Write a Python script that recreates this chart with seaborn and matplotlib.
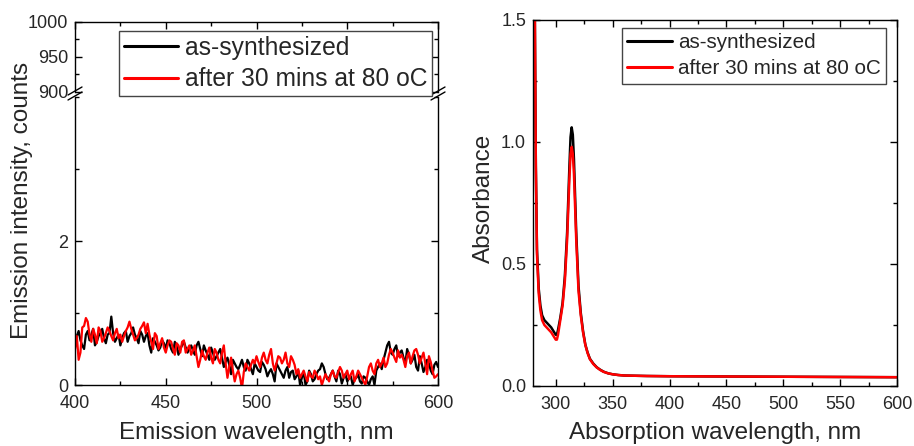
import numpy as np
import pandas as pd
import matplotlib
matplotlib.use("Agg")
import matplotlib.pyplot as plt
from matplotlib.ticker import MultipleLocator
import seaborn as sns

# ---------------- data ----------------
series_names = ["as-synthesized", "after 30 mins at 80 oC"]
series_colors = ["#000000", "#ff0000"]

em_wavelength = list(range(400, 601, 1))
em_as_synth = [
    0.55, 0.68, 0.75, 0.62, 0.55, 0.50, 0.70, 0.75, 0.62, 0.70,
    0.78, 0.55, 0.60, 0.68, 0.72, 0.78, 0.65, 0.58, 0.70, 0.72,
    0.95, 0.72, 0.60, 0.65, 0.70, 0.55, 0.65, 0.72, 0.75, 0.60,
    0.68, 0.72, 0.80, 0.70, 0.65, 0.58, 0.75, 0.70, 0.60, 0.68,
    0.72, 0.55, 0.45, 0.65, 0.60, 0.55, 0.48, 0.52, 0.62, 0.58,
    0.50, 0.62, 0.58, 0.50, 0.45, 0.60, 0.55, 0.42, 0.50, 0.55,
    0.60, 0.52, 0.45, 0.50, 0.55, 0.48, 0.42, 0.55, 0.60, 0.50,
    0.40, 0.55, 0.48, 0.42, 0.35, 0.52, 0.45, 0.35, 0.40, 0.45,
    0.50, 0.38, 0.25, 0.32, 0.38, 0.28, 0.15, 0.35, 0.30, 0.25,
    0.22, 0.28, 0.35, 0.25, 0.20, 0.35, 0.30, 0.22, 0.15, 0.30,
    0.25, 0.20, 0.18, 0.32, 0.28, 0.22, 0.12, 0.18, 0.22, 0.15,
    0.05, 0.30, 0.25, 0.20, 0.15, 0.10, 0.20, 0.25, 0.10, 0.18,
    0.20, 0.08, 0.12, 0.20, 0.00, 0.10, 0.18, 0.00, 0.05, 0.20,
    0.15, 0.05, 0.08, 0.15, 0.20, 0.22, 0.30, 0.25, 0.15, 0.08,
    0.10, 0.15, 0.20, 0.12, 0.05, 0.20, 0.15, 0.02, 0.10, 0.15,
    0.05, 0.10, 0.12, 0.00, 0.08, 0.10, 0.15, 0.05, 0.02, 0.12,
    0.10, 0.05, 0.00, 0.08, 0.12, 0.00, 0.20, 0.25, 0.30, 0.22,
    0.35, 0.45, 0.55, 0.60, 0.45, 0.42, 0.50, 0.55, 0.40, 0.45,
    0.48, 0.38, 0.30, 0.50, 0.42, 0.30, 0.35, 0.42, 0.25, 0.20,
    0.40, 0.30, 0.18, 0.25, 0.35, 0.30, 0.20, 0.15, 0.28, 0.32,
    0.25,
]
em_after = [
    0.50, 0.68, 0.35, 0.45, 0.80, 0.82, 0.93, 0.88, 0.70, 0.60,
    0.78, 0.70, 0.58, 0.80, 0.75, 0.60, 0.65, 0.72, 0.80, 0.75,
    0.68, 0.62, 0.72, 0.78, 0.65, 0.70, 0.60, 0.68, 0.75, 0.80,
    0.88, 0.78, 0.70, 0.62, 0.65, 0.70, 0.78, 0.82, 0.87, 0.72,
    0.85, 0.70, 0.60, 0.50, 0.72, 0.68, 0.50, 0.58, 0.65, 0.52,
    0.45, 0.55, 0.62, 0.60, 0.50, 0.42, 0.58, 0.55, 0.45, 0.60,
    0.62, 0.45, 0.50, 0.55, 0.42, 0.48, 0.55, 0.40, 0.25, 0.35,
    0.48, 0.40, 0.35, 0.45, 0.52, 0.38, 0.30, 0.50, 0.45, 0.35,
    0.30, 0.45, 0.55, 0.30, 0.10, 0.25, 0.38, 0.20, 0.05, 0.15,
    0.20, 0.10, -0.05, 0.18, 0.30, 0.25, 0.20, 0.28, 0.35, 0.30,
    0.40, 0.32, 0.25, 0.38, 0.45, 0.35, 0.30, 0.42, 0.50, 0.30,
    0.20, 0.30, 0.40, 0.38, 0.30, 0.35, 0.45, 0.30, 0.25, 0.40,
    0.35, 0.28, 0.15, 0.22, 0.10, 0.15, 0.20, 0.12, 0.05, 0.18,
    0.12, 0.10, 0.20, 0.15, 0.08, 0.12, 0.00, 0.08, 0.15, 0.10,
    0.05, 0.15, 0.20, 0.12, 0.10, 0.18, 0.25, 0.20, 0.10, 0.15,
    0.20, 0.08, 0.15, 0.20, 0.05, 0.12, 0.20, 0.15, 0.10, 0.05,
    0.00, 0.12, 0.25, 0.30, 0.20, 0.15, 0.30, 0.35, 0.25, 0.30,
    0.38, 0.25, 0.30, 0.42, 0.50, 0.45, 0.38, 0.32, 0.48, 0.38,
    0.42, 0.35, 0.25, 0.40, 0.45, 0.30, 0.40, 0.48, 0.50, 0.42,
    0.30, 0.38, 0.45, 0.30, 0.15, 0.40, 0.32, 0.20, 0.10, 0.12,
    0.15,
]

abs_wavelength = [
    281.5, 282.5, 283.5, 285, 286.5, 288, 290, 293, 296, 298,
    300, 301, 302, 304, 306, 308, 310, 312, 313, 314,
    315, 316, 318, 320, 322, 324, 326, 328, 330, 333,
    336, 339, 342, 346, 350, 355, 360, 380, 400, 450,
    500, 550, 600,
]
abs_as_synth = [
    1.60, 0.90, 0.56, 0.40, 0.33, 0.29, 0.27, 0.255, 0.24, 0.225,
    0.21, 0.21, 0.23, 0.28, 0.34, 0.45, 0.63, 0.90, 1.02, 1.06,
    1.03, 0.93, 0.63, 0.41, 0.30, 0.225, 0.17, 0.137, 0.112, 0.092,
    0.077, 0.067, 0.059, 0.052, 0.048, 0.045, 0.043, 0.041, 0.040, 0.039,
    0.038, 0.037, 0.036,
]
abs_after = [
    1.60, 0.90, 0.54, 0.38, 0.31, 0.27, 0.25, 0.235, 0.22, 0.205,
    0.19, 0.19, 0.21, 0.27, 0.33, 0.43, 0.60, 0.85, 0.95, 0.98,
    0.95, 0.87, 0.60, 0.39, 0.29, 0.22, 0.168, 0.135, 0.11, 0.09,
    0.076, 0.066, 0.058, 0.052, 0.048, 0.045, 0.043, 0.041, 0.040, 0.039,
    0.038, 0.037, 0.036,
]

em_df = pd.concat([
    pd.DataFrame({"wl": em_wavelength, "val": em_as_synth, "series": series_names[0]}),
    pd.DataFrame({"wl": em_wavelength, "val": em_after, "series": series_names[1]}),
])
abs_df = pd.concat([
    pd.DataFrame({"wl": abs_wavelength, "val": abs_as_synth, "series": series_names[0]}),
    pd.DataFrame({"wl": abs_wavelength, "val": abs_after, "series": series_names[1]}),
])
palette = dict(zip(series_names, series_colors))

# ---------------- style ----------------
sns.set_style("ticks")
plt.rcParams["font.family"] = ["Liberation Sans", "DejaVu Sans"]
plt.rcParams["axes.linewidth"] = 1.0
plt.rcParams["axes.edgecolor"] = "black"

W, H = 914, 446
fig = plt.figure(figsize=(W / 100, H / 100), dpi=100)

def fx(px):
    return px / W

def fy(py):
    return (H - py) / H

TICK = 13
LABEL = 17.5

# left: broken axis
lx0, lx1 = 75, 438
ax_top = fig.add_axes([fx(lx0), fy(92), fx(lx1 - lx0), (92 - 22) / H])
ax_bot = fig.add_axes([fx(lx0), fy(385), fx(lx1 - lx0), (385 - 97) / H])
# right
ax_r = fig.add_axes([fx(533), fy(386), fx(897 - 533), (386 - 20) / H])

for ax in (ax_top, ax_bot):
    sns.lineplot(data=em_df, x="wl", y="val", hue="series", palette=palette,
                 hue_order=series_names, ax=ax, linewidth=1.6, legend=False,
                 estimator=None, sort=False)
    ax.set_xlim(400, 600)
    ax.set_xlabel("")
    ax.set_ylabel("")
    ax.xaxis.set_major_locator(MultipleLocator(50))
    ax.xaxis.set_minor_locator(MultipleLocator(25))

ax_top.set_ylim(900, 1000)
ax_top.yaxis.set_major_locator(MultipleLocator(50))
ax_top.yaxis.set_minor_locator(MultipleLocator(25))
ax_top.spines["bottom"].set_visible(False)
ax_top.tick_params(axis="x", which="both", bottom=False, labelbottom=False, top=True)

ax_bot.set_ylim(0, 4)
ax_bot.set_yticks([0, 2])
ax_bot.yaxis.set_minor_locator(MultipleLocator(1))
ax_bot.spines["top"].set_visible(False)
ax_bot.tick_params(axis="x", which="both", top=False, bottom=True)

sns.lineplot(data=abs_df, x="wl", y="val", hue="series", palette=palette,
             hue_order=series_names, ax=ax_r, linewidth=1.8, legend=False,
             estimator=None, sort=False)
ax_r.set_xlim(280, 600)
ax_r.set_ylim(0, 1.5)
ax_r.xaxis.set_major_locator(MultipleLocator(50))
ax_r.xaxis.set_minor_locator(MultipleLocator(25))
ax_r.set_yticks([0, 0.5, 1.0, 1.5])
ax_r.set_yticklabels(["0.0", "0.5", "1.0", "1.5"])
ax_r.yaxis.set_minor_locator(MultipleLocator(0.25))
ax_r.set_xlabel("")
ax_r.set_ylabel("")
ax_r.tick_params(axis="x", which="both", top=True)

for ax in (ax_top, ax_bot, ax_r):
    ax.tick_params(which="both", direction="in", right=True, labelsize=TICK,
                   width=1.0, color="black")
    ax.tick_params(axis="y", which="both", pad=5)
    ax.tick_params(axis="x", which="both", pad=7)
    ax.tick_params(which="major", length=5)
    ax.tick_params(which="minor", length=3)
    for s in ax.spines.values():
        s.set_linewidth(1.0)
ax_top.tick_params(axis="x", which="both", bottom=False)
ax_bot.tick_params(axis="x", which="both", top=False)

# break marks
for xpx in (lx0, lx1):
    for ypx in (91, 96):
        fig.add_artist(plt.Line2D([fx(xpx - 7), fx(xpx + 7)], [fy(ypx + 4), fy(ypx - 4)],
                                  transform=fig.transFigure, color="black", lw=1.0))

# labels
fig.text(fx(256), fy(433), "Emission wavelength, nm", ha="center", va="center", fontsize=LABEL)
fig.text(fx(715), fy(433), "Absorption wavelength, nm", ha="center", va="center", fontsize=LABEL)
fig.text(fx(22), fy(200), "Emission intensity, counts", ha="center", va="center",
         rotation=90, fontsize=LABEL)
fig.text(fx(484), fy(198), "Absorbance", ha="center", va="center", rotation=90, fontsize=LABEL)

# legends
handles = [plt.Line2D([], [], color=c, lw=2.2) for c in series_colors]
fig.legend(handles, series_names, loc="upper right",
           bbox_to_anchor=(fx(432), fy(31)), bbox_transform=fig.transFigure,
           fontsize=17.7, frameon=True, fancybox=False, edgecolor="#444444",
           framealpha=1, borderpad=0.2, labelspacing=0.3, handlelength=2.2,
           handletextpad=0.27, borderaxespad=0)
fig.legend(handles, series_names, loc="upper right",
           bbox_to_anchor=(fx(886), fy(28)), bbox_transform=fig.transFigure,
           fontsize=14.9, frameon=True, fancybox=False, edgecolor="#444444",
           framealpha=1, borderpad=0.25, labelspacing=0.35, handlelength=2.2,
           handletextpad=0.27, borderaxespad=0)

fig.savefig("out.png", dpi=100)
